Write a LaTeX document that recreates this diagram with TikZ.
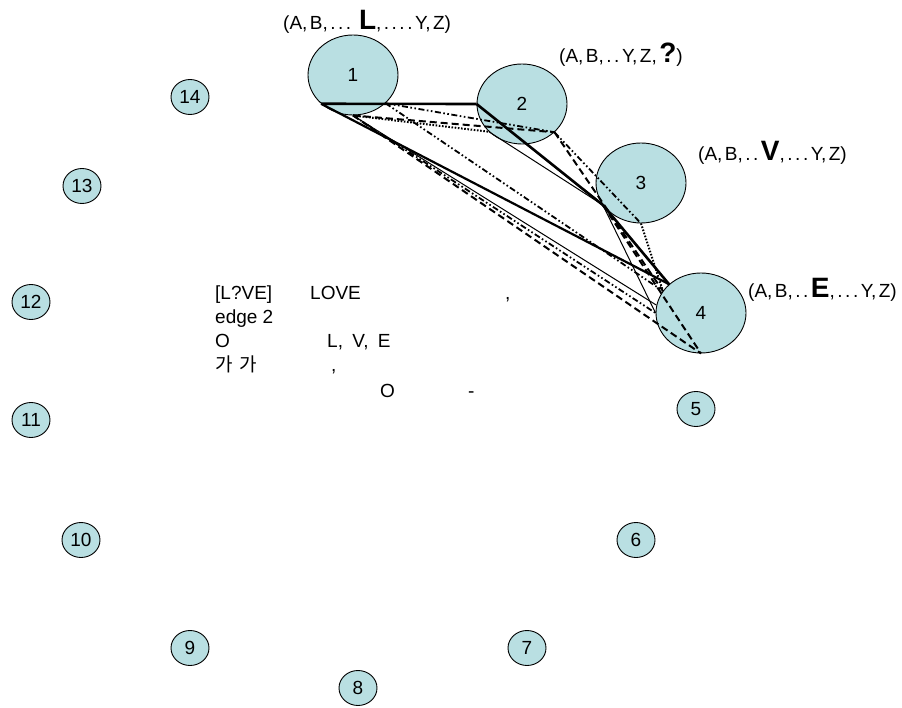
\documentclass[tikz,border=0pt]{standalone}
\usepackage{fontspec}
\setmainfont{Liberation Sans}
\newfontfamily\krfont{Noto Sans CJK KR}
\usetikzlibrary{shapes.geometric}
\definecolor{nodefill}{RGB}{185,223,226}
% wide punctuation for the letter sets
\newcommand\wpd{.\kern2.5pt}
\newcommand\wcm{,\kern2.5pt}
\newcommand\bigletter[1]{\textbf{\fontsize{28}{28}\selectfont #1}}
\begin{document}
\begin{tikzpicture}[x=1pt,y=-1pt,
  every node/.style={font=\fontsize{19}{23}\selectfont},
  bignode/.style={ellipse,draw=black,line width=0.9pt,fill=nodefill,minimum width=90pt,minimum height=80pt,inner sep=0pt},
  smallnode/.style={ellipse,draw=black,line width=0.9pt,fill=nodefill,minimum width=38pt,minimum height=35pt,inner sep=0pt},
  txt/.style={anchor=base west,inner sep=0pt},
  heavy/.style={line width=2.6pt},
  medium/.style={line width=2.2pt},
  thinline/.style={line width=1pt},
  longdash/.style={line width=2pt,dash pattern=on 7pt off 4pt},
  dashdotdot/.style={line width=1.8pt,dash pattern=on 6pt off 2.5pt on 1.6pt off 2.5pt on 1.6pt off 2.5pt},
  dots/.style={line width=2pt,dash pattern=on 1.6pt off 1.6pt}
]
\useasboundingbox (0,0) rectangle (902,708);

% word nodes
\node[bignode] (n1) at (353,75) {1};
\node[bignode] (n2) at (522,104) {2};
\node[bignode] (n3) at (641,183) {3};
\node[bignode] (n4) at (701,313) {4};

% remaining nodes on the ring
\node[smallnode] (s5)  at (696,409) {5};
\node[smallnode] (s6)  at (636,540) {6};
\node[smallnode] (s7)  at (527,648) {7};
\node[smallnode] (s8)  at (358,688) {8};
\node[smallnode] (s9)  at (190,648) {9};
\node[smallnode] (s10) at (81,540)  {10};
\node[smallnode] (s11) at (31,420)  {11};
\node[smallnode] (s12) at (31,302)  {12};
\node[smallnode] (s13) at (82,186)  {13};
\node[smallnode] (s14) at (190,97)  {14};

% edges between the word nodes
\draw[heavy] (n1.222) -- (n2.180);
\draw[heavy] (n2.180) -- (n3.210);
\draw[heavy] (n3.210) -- (n4.138);
\draw[medium] (n1.222) -- (n4.138);
\draw[longdash] (n1.270) -- (n4.270);
\draw[dashdotdot] (n1.270) -- (n4.180);
\draw[thinline] (n1.270) -- (n4.170);
\draw[dashdotdot] (n1.319) -- (n2.319);
\draw[longdash] (n1.270) -- (n2.319);
\draw[dots] (n1.270) -- (n2.220);
\draw[thinline] (n2.220) -- (n3.210);
\draw[dashdotdot] (n1.319) -- (n4.150);
\draw[dashdotdot] (n2.319) -- (n3.270);
\draw[longdash] (n2.319) -- (n4.150);
\draw[dots] (n3.270) -- (n4.150);
\draw[longdash] (n3.210) -- (n4.270);
\draw[thinline] (n3.210) -- (n4.180);

% letter sets of the word nodes
\node[txt] (t1) at (283,30) {(A\wcm B\wcm\wpd\wpd\wpd\ \bigletter{L}\wcm\wpd\wpd\wpd\wpd Y\wcm Z)};
\node[txt] (t2) at (559,63) {(A\wcm B\wcm\wpd\wpd Y\wcm Z\wcm\bigletter{?})};
\node[txt] (t3) at (698,161) {(A\wcm B\wcm\wpd\wpd\bigletter{V}\wcm\wpd\wpd\wpd Y\wcm Z)};
\node[txt] (t4) at (748,298) {(A\wcm B\wcm\wpd\wpd\bigletter{E}\wcm\wpd\wpd\wpd Y\wcm Z)};

% explanation
\node[txt] (m1a) at (215,300) {[L?VE]};
\node[txt] (m1b) at (310,300) {LOVE};
\node[txt] (m1c) at (505,300) {,};
\node[txt] (m2a) at (215,324) {edge 2};
\node[txt] (m3a) at (215,348) {O};
\node[txt] (m3b) at (327,348) {L,\kern4pt{} V,\kern4pt{} E};
\node[txt] (m4a) at (215,372) {\krfont 가\kern3pt{} 가};
\node[txt] (m4b) at (331,372) {,};
\node[txt] (m5a) at (380,398) {O};
\node[txt] (m5b) at (468,398) {-};
\end{tikzpicture}
\end{document}
